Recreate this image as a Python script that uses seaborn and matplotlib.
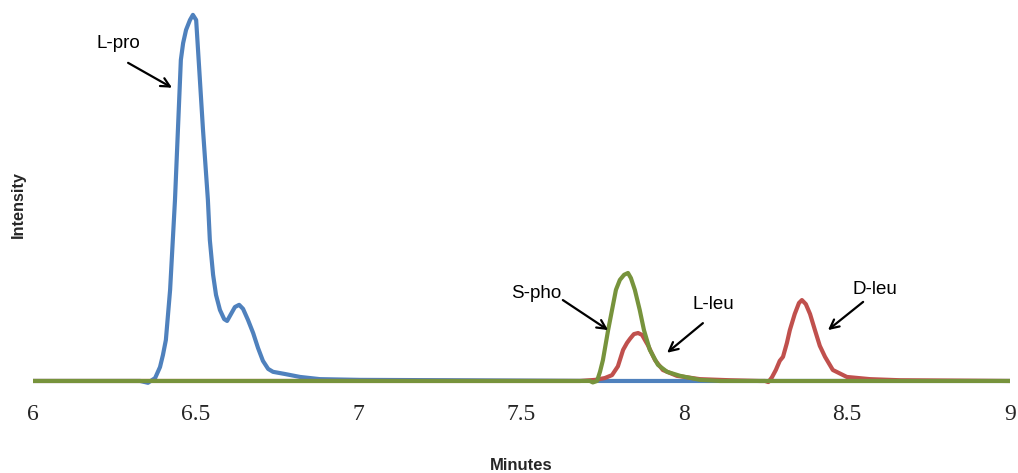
import matplotlib
matplotlib.use("Agg")
import matplotlib.pyplot as plt
import seaborn as sns
import pandas as pd

# ---- data ----
lpro_x = [6.000, 6.329, 6.353, 6.375, 6.390, 6.399, 6.408, 6.421, 6.436, 6.445, 6.454,
          6.461, 6.470, 6.482, 6.491, 6.501, 6.510, 6.522, 6.537, 6.543, 6.553, 6.562,
          6.574, 6.587, 6.596, 6.608, 6.620, 6.633, 6.645, 6.660, 6.676, 6.691, 6.706,
          6.722, 6.737, 6.774, 6.820, 6.881, 7.004, 7.280, 7.741, 8.230, 9.000]
lpro_y = [0.0, 0.0, -0.5, 0.8, 3.8, 7.1, 11.2, 24.9, 49.5, 68.6, 87.7,
          92.3, 95.9, 98.6, 100.0, 98.6, 85.8, 68.6, 49.5, 38.5, 29.0, 23.5,
          19.4, 16.9, 16.4, 18.3, 20.2, 20.8, 19.7, 16.7, 13.1, 9.0, 5.5,
          3.3, 2.5, 1.9, 1.1, 0.5, 0.3, 0.2, 0.0, 0.0, 0.0]

leu_x = [6.000, 7.680, 7.726, 7.756, 7.778, 7.796, 7.812, 7.824, 7.833, 7.845, 7.858,
         7.870, 7.888, 7.910, 7.934, 7.977, 8.048, 8.140, 8.232, 8.248, 8.258, 8.269,
         8.281, 8.293, 8.303, 8.315, 8.324, 8.339, 8.352, 8.361, 8.373, 8.386, 8.401,
         8.416, 8.432, 8.456, 8.499, 8.570, 8.662, 9.000]
leu_y = [0.0, 0.0, 0.3, 0.8, 1.6, 4.0, 8.5, 10.4, 11.5, 12.8, 13.1,
         12.6, 9.8, 5.7, 3.0, 1.4, 0.5, 0.2, 0.0, 0.0, -0.3, 1.0,
         3.0, 5.5, 6.6, 10.4, 13.9, 18.3, 21.3, 22.1, 21.0, 18.3, 13.9,
         9.6, 6.6, 3.0, 1.1, 0.5, 0.2, 0.0]

spho_x = [6.000, 7.710, 7.719, 7.732, 7.741, 7.750, 7.766, 7.778, 7.790, 7.802, 7.815,
          7.827, 7.836, 7.848, 7.863, 7.876, 7.894, 7.919, 7.947, 7.987, 8.048, 8.109, 9.000]
spho_y = [0.0, 0.0, -0.4, 0.0, 2.5, 5.7, 13.9, 19.4, 24.9, 27.6, 29.0,
          29.5, 28.1, 24.9, 19.4, 13.9, 8.5, 4.4, 2.5, 1.4, 0.3, 0.0, 0.0]

x_ticks = [6, 6.5, 7, 7.5, 8, 8.5, 9]
x_tick_labels = ["6", "6.5", "7", "7.5", "8", "8.5", "9"]

labels = ["L-pro", "S-pho", "L-leu", "D-leu"]
label_text_xy = [(6.261, 92.3), (7.545, 24.0), (8.088, 20.8), (8.585, 24.9)]
arrow_start_xy = [(6.292, 86.9), (7.627, 22.1), (8.057, 15.8), (8.549, 21.6)]
arrow_tip_xy = [(6.427, 80.1), (7.766, 13.9), (7.947, 7.7), (8.441, 13.9)]

BLUE = "#4F81BD"
RED = "#C0504D"
GREEN = "#77933C"

sns.set_style("white")
plt.rcParams["font.family"] = ["Liberation Sans", "DejaVu Sans"]

fig = plt.figure(figsize=(10.18, 4.73), dpi=100)
ax = fig.add_axes([33 / 1018, 1 - 385 / 473, 977 / 1018, 380 / 473])

df_b = pd.DataFrame({"x": lpro_x, "y": lpro_y})
df_r = pd.DataFrame({"x": leu_x, "y": leu_y})
df_g = pd.DataFrame({"x": spho_x, "y": spho_y})

kw = dict(linewidth=3.0, sort=False, estimator=None, ax=ax,
          solid_joinstyle="round", solid_capstyle="round")
sns.lineplot(data=df_b, x="x", y="y", color=BLUE, **kw)
sns.lineplot(data=df_r, x="x", y="y", color=RED, **kw)
sns.lineplot(data=df_g, x="x", y="y", color=GREEN, **kw)

ax.set_xlim(6, 9)
ax.set_ylim(-1.1, 102.7)
ax.set_xticks(x_ticks)
ax.set_xticklabels(x_tick_labels, fontfamily="Liberation Serif", fontsize=17)
ax.set_yticks([])
ax.tick_params(axis="x", length=0, pad=14)
ax.set_xlabel("")
ax.set_ylabel("")
for s in ax.spines.values():
    s.set_visible(False)

for lab, t, s0, tip in zip(labels, label_text_xy, arrow_start_xy, arrow_tip_xy):
    ax.text(t[0], t[1], lab, ha="center", va="center", fontsize=13.5, color="black")
    ax.annotate("", xy=tip, xytext=s0,
                arrowprops=dict(arrowstyle="->", lw=1.6, color="black",
                                mutation_scale=16, shrinkA=0, shrinkB=0))

fig.text(521 / 1018, 1 - 465 / 473, "Minutes", ha="center", va="center",
         fontsize=12, fontweight="bold")
fig.text(18 / 1018, 1 - 205 / 473, "Intensity", ha="center", va="center",
         rotation=90, fontsize=11.7, fontweight="bold")

fig.savefig("out.png", dpi=100)
